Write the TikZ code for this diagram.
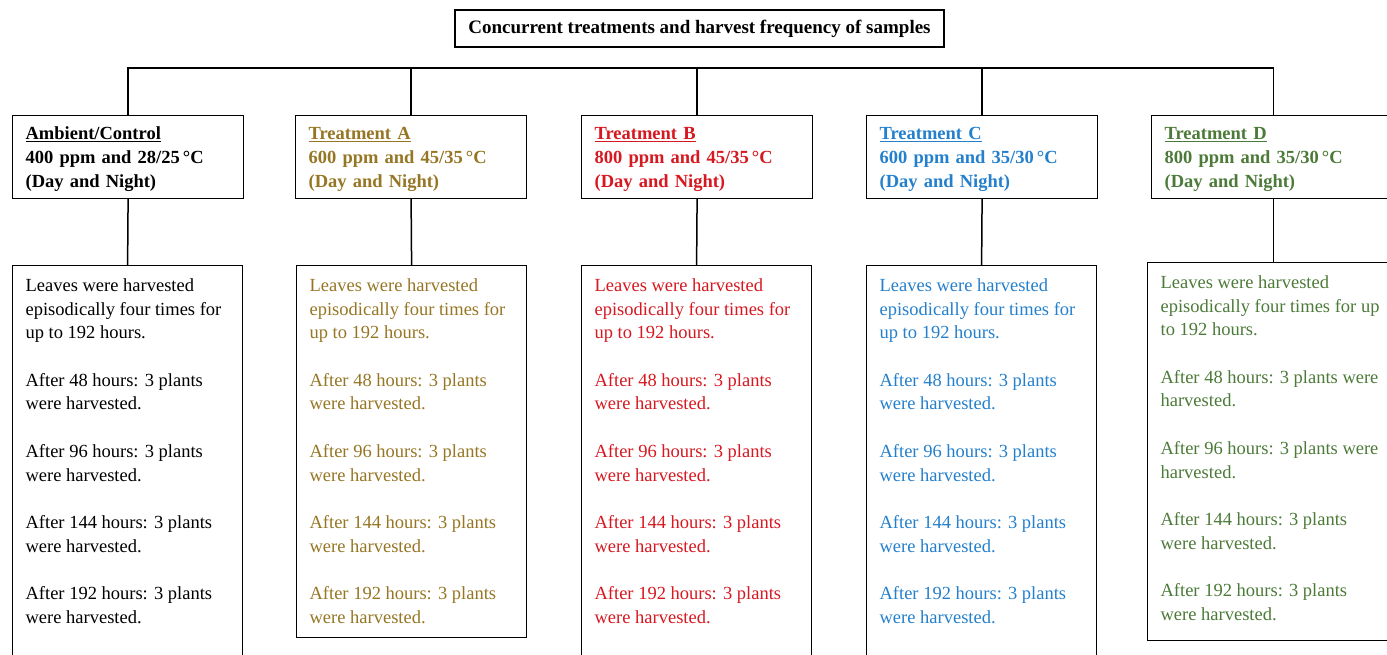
\documentclass[tikz,border=0pt]{standalone}
\usepackage{fontspec}
\setmainfont{Liberation Serif}
\definecolor{trAcol}{RGB}{150,118,36}
\definecolor{trBcol}{RGB}{214,24,32}
\definecolor{trCcol}{RGB}{36,128,204}
\definecolor{trDcol}{RGB}{76,122,56}
\begin{document}
\begin{tikzpicture}[x=1pt, y=-1pt,
    every node/.style={font=\fontsize{18.5}{23.7}\selectfont},
    hbox/.style={draw, line width=1.2pt, anchor=north west, align=left,
      inner xsep=13pt, text width=205pt, minimum height=83pt,
      font=\fontsize{18.5}{24}\selectfont\bfseries},
    cbox/.style={draw, line width=1.2pt, anchor=north west, inner sep=13pt},
    link/.style={line width=1.5pt}]
    \useasboundingbox (0,0) rectangle (1387,655);

    % title
    \node[draw, line width=1.2pt, minimum width=489pt, minimum height=37pt,
      font=\fontsize{19}{23.7}\selectfont\bfseries] (title) at (699.5,28.5)
      {Concurrent treatments and harvest frequency of samples};

    % treatment headers
    \node[hbox] (ctlh) at (12,115) {\rule{0pt}{17pt}\underline{Ambient/Control}\\ 400 ppm and 28/25\,°C\\ (Day and Night)};
    \node[hbox, text=trAcol] (trAh) at (295,115) {\rule{0pt}{17pt}\underline{Treatment A}\\ 600 ppm and 45/35\,°C\\ (Day and Night)};
    \node[hbox, text=trBcol] (trBh) at (581,115) {\rule{0pt}{17pt}\underline{Treatment B}\\ 800 ppm and 45/35\,°C\\ (Day and Night)};
    \node[hbox, text=trCcol] (trCh) at (866,115) {\rule{0pt}{17pt}\underline{Treatment C}\\ 600 ppm and 35/30\,°C\\ (Day and Night)};
    \node[hbox, text=trDcol, text width=218pt] (trDh) at (1151,115) {\rule{0pt}{17pt}\underline{Treatment D}\\ 800 ppm and 35/30\,°C\\ (Day and Night)};

    % harvest boxes
    \node[cbox] (ctlc) at (12,265) {\parbox[t][394pt][t]{204pt}{%
      Leaves were harvested\\ episodically four times for\\ up to 192 hours.\\[23.7pt]
      After 48 hours: 3 plants\\ were harvested.\\[23.7pt]
      After 96 hours: 3 plants\\ were harvested.\\[23.7pt]
      After 144 hours: 3 plants\\ were harvested.\\[23.7pt]
      After 192 hours: 3 plants\\ were harvested.}};
    \node[cbox, text=trAcol] (trAc) at (296,265) {\parbox[t][346pt][t]{204pt}{%
      Leaves were harvested\\ episodically four times for\\ up to 192 hours.\\[23.7pt]
      After 48 hours: 3 plants\\ were harvested.\\[23.7pt]
      After 96 hours: 3 plants\\ were harvested.\\[23.7pt]
      After 144 hours: 3 plants\\ were harvested.\\[23.7pt]
      After 192 hours: 3 plants\\ were harvested.}};
    \node[cbox, text=trBcol] (trBc) at (581,265) {\parbox[t][394pt][t]{204pt}{%
      Leaves were harvested\\ episodically four times for\\ up to 192 hours.\\[23.7pt]
      After 48 hours: 3 plants\\ were harvested.\\[23.7pt]
      After 96 hours: 3 plants\\ were harvested.\\[23.7pt]
      After 144 hours: 3 plants\\ were harvested.\\[23.7pt]
      After 192 hours: 3 plants\\ were harvested.}};
    \node[cbox, text=trCcol] (trCc) at (866,265) {\parbox[t][394pt][t]{204pt}{%
      Leaves were harvested\\ episodically four times for\\ up to 192 hours.\\[23.7pt]
      After 48 hours: 3 plants\\ were harvested.\\[23.7pt]
      After 96 hours: 3 plants\\ were harvested.\\[23.7pt]
      After 144 hours: 3 plants\\ were harvested.\\[23.7pt]
      After 192 hours: 3 plants\\ were harvested.}};
    \node[cbox, text=trDcol] (trDc) at (1147,262) {\parbox[t][352pt][t]{226pt}{%
      Leaves were harvested\\ episodically four times for up\\ to 192 hours.\\[23.7pt]
      After 48 hours: 3 plants were\\ harvested.\\[23.7pt]
      After 96 hours: 3 plants were\\ harvested.\\[23.7pt]
      After 144 hours: 3 plants\\ were harvested.\\[23.7pt]
      After 192 hours: 3 plants\\ were harvested.}};

    % connectors
    \coordinate (bus) at (127,68);
    \draw[link] (ctlh.north) -- (ctlh.north |- bus) -- (trDh.north |- bus) -- (trDh.north);
    \foreach \t in {trAh,trBh,trCh}
      \draw[link] (\t.north) -- (\t.north |- bus);
    \foreach \h/\c in {ctlh/ctlc,trAh/trAc,trBh/trBc,trCh/trCc,trDh/trDc}
      \draw[link] (\h.south) -- (\c.north);
\end{tikzpicture}
\end{document}
